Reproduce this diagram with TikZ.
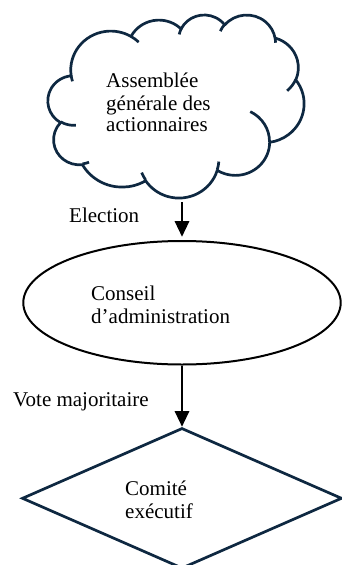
\documentclass[tikz,border=0pt]{standalone}
\usepackage{fontspec}
\setmainfont{Liberation Serif}
\usetikzlibrary{shapes.geometric,arrows.meta}
\definecolor{navy}{HTML}{0E2841}
\begin{document}
\begin{tikzpicture}[x=1pt,y=1pt,yscale=-1,
  lbl/.style={anchor=base west, inner sep=0pt, font=\fontsize{21}{24}\selectfont},
  arr/.style={line width=1.3pt, -{Triangle[length=15.5pt,width=14.5pt]}},
  cloudline/.style={draw=navy, line width=2.7pt, line join=round}]
\useasboundingbox (0,0) rectangle (341,565);

% cloud (Word preset geometry, path units /100)
\begin{scope}[shift={(48,14.4)}, xscale=0.5926, yscale=0.4236]
\draw[cloudline] (39.00,143.70)
  \foreach \pa/\pb/\pc/\pd in {67.53/91.90/-190.4875/123.7805, 53.33/72.67/-144.1024/89.9452, 43.65/59.45/-145.8079/99.7230, 48.57/65.95/-130.9861/117.2417, 53.33/72.73/-78.7089/109.0269, 67.75/92.20/-46.2673/130.2690, 57.85/78.67/0.6250/114.0333, 67.52/92.15/22.4516/115.1726, 77.20/105.43/66.2426/75.7110, 43.60/59.18/-274.9421/146.7356, 43.45/59.45/-246.8285/152.5189}
  { arc[x radius=\pa, y radius=\pb, start angle={atan2(\pa*sin(\pc),\pb*cos(\pc))}, delta angle={mod(atan2(\pa*sin(\pc+\pd),\pb*cos(\pc+\pd))-atan2(\pa*sin(\pc),\pb*cos(\pc))+720,360)}] } -- cycle;
\draw[cloudline]
  \foreach \px/\py/\pa/\pb/\pc/\pd in {46.93/261.77/43.45/59.45/86.7420/26.4295, 69.28/348.99/43.60/59.18/73.6105/11.4475, 164.78/390.90/67.52/92.15/137.6242/14.0811, 288.27/347.51/67.52/92.15/6.4533/15.9984, 341.29/229.54/57.85/78.67/-70.2924/70.9174, 417.98/153.54/53.33/72.73/30.3180/27.7515, 383.24/54.26/48.57/65.95/-13.7443/14.8589, 290.78/39.52/48.57/65.95/-149.1815/18.1954, 221.41/47.20/43.65/59.45/-163.4943/17.6864, 140.00/51.92/67.53/91.90/-66.7070/12.3194, 41.27/157.89/67.53/91.90/157.6544/11.8582}
  { (\px,\py) arc[x radius=\pa, y radius=\pb, start angle={atan2(\pa*sin(\pc),\pb*cos(\pc))}, delta angle={mod(atan2(\pa*sin(\pc+\pd),\pb*cos(\pc+\pd))-atan2(\pa*sin(\pc),\pb*cos(\pc))+720,360)}] };
\end{scope}

\node[lbl] (a1) at (106,87.3) {Assemblée};
\node[lbl] (a2) at (106,110) {générale des};
\node[lbl] (a3) at (106,131.7) {actionnaires};

\node[draw, line width=2pt, ellipse, minimum width=317.4pt, minimum height=123.5pt, inner sep=0pt] (conseil) at (182,302.75) {};
\node[lbl] (c1) at (91,300) {Conseil};
\node[lbl] (c2) at (91,323.3) {d’administration};

\node[draw=navy, line width=2.7pt, diamond, minimum width=320pt, minimum height=140.6pt, inner sep=0pt] (comite) at (182,498.3) {};
\node[lbl] (d1) at (125,495) {Comité};
\node[lbl] (d2) at (125,518.3) {exécutif};

\coordinate (cb) at (182,202.3);
\draw[arr, shorten >=3.3pt] (cb) -- (cb |- conseil.north);
\node[lbl] (e) at (69,222.3) {Election};

\draw[arr] (conseil.south) -- (comite.north);
\node[lbl] (v) at (13,406) {Vote majoritaire};
\end{tikzpicture}
\end{document}
